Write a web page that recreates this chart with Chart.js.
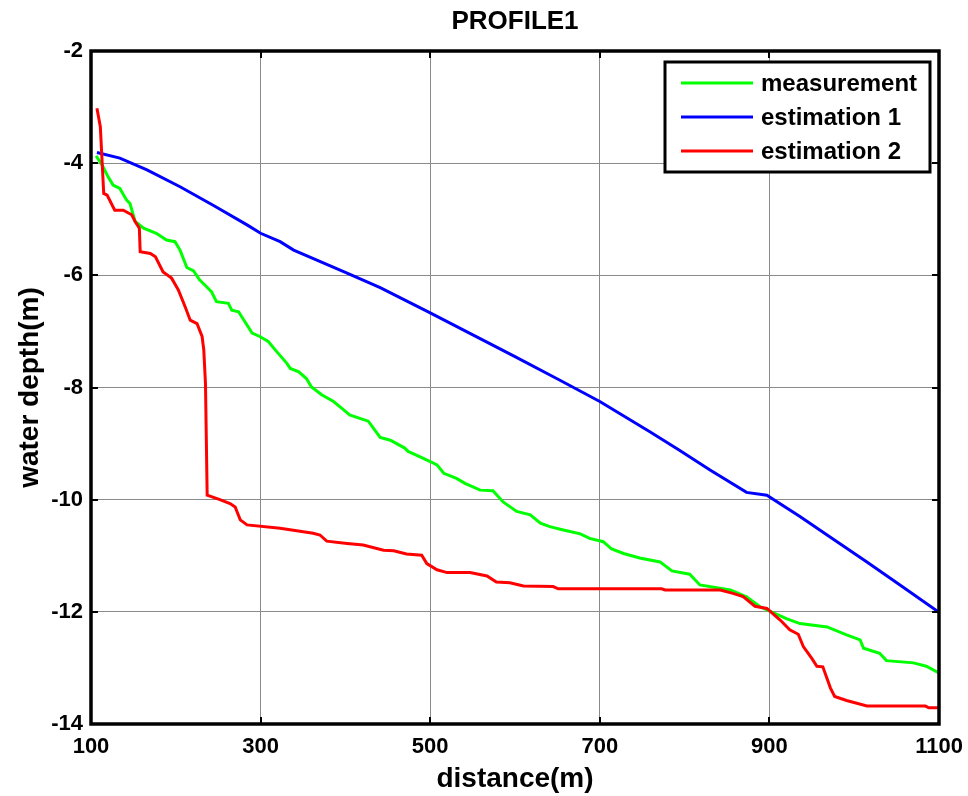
<!DOCTYPE html>
<html>
<head>
<meta charset="utf-8">
<title>PROFILE1</title>
<script src="https://cdn.jsdelivr.net/npm/chart.js@4.4.1/dist/chart.umd.min.js"></script>
<style>
  html, body { margin: 0; padding: 0; background: #fff; }
  #profile { display: block; }
</style>
</head>
<body>
<canvas id="profile" width="968" height="796"></canvas>
<script>
// axis ticks
const xTicks = [100, 300, 500, 700, 900, 1100];
const yTicks = [-14, -12, -10, -8, -6, -4, -2];

// measurement
const measDist = [106, 113, 120, 126, 134, 142, 146, 152, 162, 177, 189, 199, 205, 213, 221, 228, 236, 242, 248, 262,
  266, 274, 290, 299, 309, 319, 331, 335, 345, 354, 360, 372, 386, 398, 405, 417, 427, 441, 453, 470,
  474, 490, 500, 508, 516, 531, 541, 559, 574, 586, 602, 618, 630, 641, 657, 677, 688, 704, 714, 728,
  747, 771, 785, 806, 818, 854, 873, 889, 901, 920, 936, 968, 991, 1007, 1011, 1030, 1038, 1070, 1085, 1100];
const measDepth = [-3.87, -4.03, -4.24, -4.39, -4.45, -4.66, -4.72, -5.04, -5.16, -5.25, -5.37, -5.40, -5.55, -5.86, -5.92, -6.08, -6.20, -6.29, -6.47, -6.50,
  -6.62, -6.65, -7.03, -7.09, -7.18, -7.36, -7.57, -7.66, -7.72, -7.84, -7.99, -8.13, -8.25, -8.40, -8.49, -8.55, -8.60, -8.89, -8.94, -9.08,
  -9.14, -9.25, -9.32, -9.38, -9.53, -9.62, -9.71, -9.83, -9.84, -10.04, -10.21, -10.27, -10.42, -10.48, -10.54, -10.61, -10.69, -10.75, -10.88, -10.96,
  -11.04, -11.11, -11.27, -11.33, -11.52, -11.61, -11.73, -11.91, -11.99, -12.12, -12.21, -12.27, -12.41, -12.50, -12.65, -12.74, -12.87, -12.91, -12.97, -13.09];

// estimation 1
const est1Dist = [107, 134, 166, 205, 244, 284, 300, 323, 339, 402, 441, 500, 600, 653, 700, 759, 793, 830, 873, 897,
  936, 975, 1015, 1054, 1100];
const est1Depth = [-3.81, -3.91, -4.12, -4.42, -4.75, -5.10, -5.25, -5.40, -5.55, -5.96, -6.22, -6.67, -7.45, -7.87, -8.25, -8.79, -9.11, -9.47, -9.87, -9.92,
  -10.30, -10.70, -11.11, -11.52, -12.01];

// estimation 2
const est2Dist = [107, 111, 115, 119, 128, 138, 148, 152, 157, 158, 170, 176, 185, 195, 203, 211, 217, 225, 231, 233,
  235, 237, 252, 264, 270, 276, 284, 323, 362, 370, 378, 402, 421, 445, 457, 472, 490, 496, 508, 520,
  547, 567, 578, 594, 610, 645, 651, 773, 777, 842, 857, 869, 883, 897, 913, 924, 934, 940, 950, 956,
  963, 972, 977, 991, 1015, 1084, 1088, 1100];
const est2Depth = [-3.02, -3.35, -4.54, -4.57, -4.84, -4.84, -4.92, -5.04, -5.16, -5.58, -5.61, -5.67, -5.94, -6.05, -6.26, -6.56, -6.80, -6.86, -7.09, -7.33,
  -7.93, -9.92, -10.00, -10.07, -10.13, -10.36, -10.45, -10.51, -10.60, -10.63, -10.74, -10.78, -10.81, -10.90, -10.91, -10.97, -10.99, -11.14, -11.25, -11.30,
  -11.30, -11.36, -11.47, -11.48, -11.54, -11.55, -11.59, -11.59, -11.61, -11.61, -11.67, -11.73, -11.90, -11.94, -12.15, -12.32, -12.40, -12.62, -12.83, -12.97,
  -12.98, -13.36, -13.51, -13.58, -13.68, -13.68, -13.71, -13.71];

const FONT = "'Liberation Sans', Arial, Helvetica, sans-serif";

function pairs(xs, ys) {
  return xs.map((x, i) => ({ x: x, y: ys[i] }));
}

// title, box, inward ticks and legend, matlab style
const matlabFrame = {
  id: 'matlabFrame',
  afterDatasetsDraw(chart) {
    const { ctx, chartArea: a, scales } = chart;
    ctx.save();
    ctx.strokeStyle = '#000';
    ctx.lineWidth = 2;
    ctx.beginPath();
    xTicks.forEach(v => {
      const px = Math.round(scales.x.getPixelForValue(v));
      ctx.moveTo(px, a.bottom); ctx.lineTo(px, a.bottom - 7);
      ctx.moveTo(px, a.top); ctx.lineTo(px, a.top + 7);
    });
    yTicks.forEach(v => {
      const py = Math.round(scales.y.getPixelForValue(v));
      ctx.moveTo(a.left, py); ctx.lineTo(a.left + 7, py);
      ctx.moveTo(a.right, py); ctx.lineTo(a.right - 7, py);
    });
    ctx.stroke();
    ctx.lineWidth = 3.5;
    ctx.strokeRect(a.left, a.top, a.right - a.left, a.bottom - a.top);

    // title
    ctx.fillStyle = '#000';
    ctx.font = 'bold 26px ' + FONT;
    ctx.textAlign = 'center';
    ctx.textBaseline = 'middle';
    ctx.fillText('PROFILE1', (a.left + a.right) / 2, 22);

    // legend
    const lx = 665, ly = 62, lw = 265, lh = 110;
    ctx.fillStyle = '#fff';
    ctx.fillRect(lx, ly, lw, lh);
    ctx.lineWidth = 3;
    ctx.strokeRect(lx, ly, lw, lh);
    ctx.font = 'bold 24px ' + FONT;
    ctx.textAlign = 'left';
    chart.data.datasets.forEach((ds, i) => {
      const y = ly + 21 + i * 34;
      ctx.strokeStyle = ds.borderColor;
      ctx.lineWidth = 3;
      ctx.beginPath();
      ctx.moveTo(lx + 16, y); ctx.lineTo(lx + 88, y);
      ctx.stroke();
      ctx.fillStyle = '#000';
      ctx.fillText(ds.label, lx + 96, y + 1);
    });
    ctx.restore();
  }
};

new Chart(document.getElementById('profile'), {
  type: 'line',
  data: {
    datasets: [
      { label: 'measurement', data: pairs(measDist, measDepth), borderColor: '#00ff00', order: 3 },
      { label: 'estimation 1', data: pairs(est1Dist, est1Depth), borderColor: '#0000ff', order: 2 },
      { label: 'estimation 2', data: pairs(est2Dist, est2Depth), borderColor: '#ff0000', order: 1 }
    ]
  },
  options: {
    responsive: false,
    animation: false,
    events: [],
    layout: { padding: { top: 51, right: 29, bottom: 0, left: 0 } },
    elements: {
      line: { borderWidth: 3, tension: 0, fill: false },
      point: { radius: 0 }
    },
    plugins: {
      legend: { display: false },
      title: { display: false },
      tooltip: { enabled: false }
    },
    scales: {
      x: {
        type: 'linear',
        min: 100,
        max: 1100,
        afterBuildTicks: s => { s.ticks = xTicks.map(v => ({ value: v })); },
        afterFit: s => {
          s.height = 72;
          s.paddingLeft = 0;
          s.paddingRight = 0;
        },
        border: { display: false },
        grid: { color: '#8a8a8a', lineWidth: 1, drawTicks: false },
        ticks: {
          color: '#000',
          padding: 10,
          font: { family: FONT, size: 22, weight: 'bold' },
          callback: v => String(v)
        },
        title: {
          display: true,
          text: 'distance(m)',
          color: '#000',
          padding: { top: 0, bottom: 0 },
          font: { family: FONT, size: 28, weight: 'bold' }
        }
      },
      y: {
        type: 'linear',
        min: -14,
        max: -2,
        afterBuildTicks: s => { s.ticks = yTicks.map(v => ({ value: v })); },
        afterFit: s => {
          s.width = 91;
          s.paddingTop = 0;
          s.paddingBottom = 0;
        },
        border: { display: false },
        grid: { color: '#8a8a8a', lineWidth: 1, drawTicks: false },
        ticks: {
          color: '#000',
          padding: 8,
          font: { family: FONT, size: 22, weight: 'bold' },
          callback: v => String(v)
        },
        title: {
          display: true,
          text: 'water depth(m)',
          color: '#000',
          padding: { top: 13, bottom: 0 },
          font: { family: FONT, size: 28, weight: 'bold' }
        }
      }
    }
  },
  plugins: [matlabFrame]
});
</script>
</body>
</html>
